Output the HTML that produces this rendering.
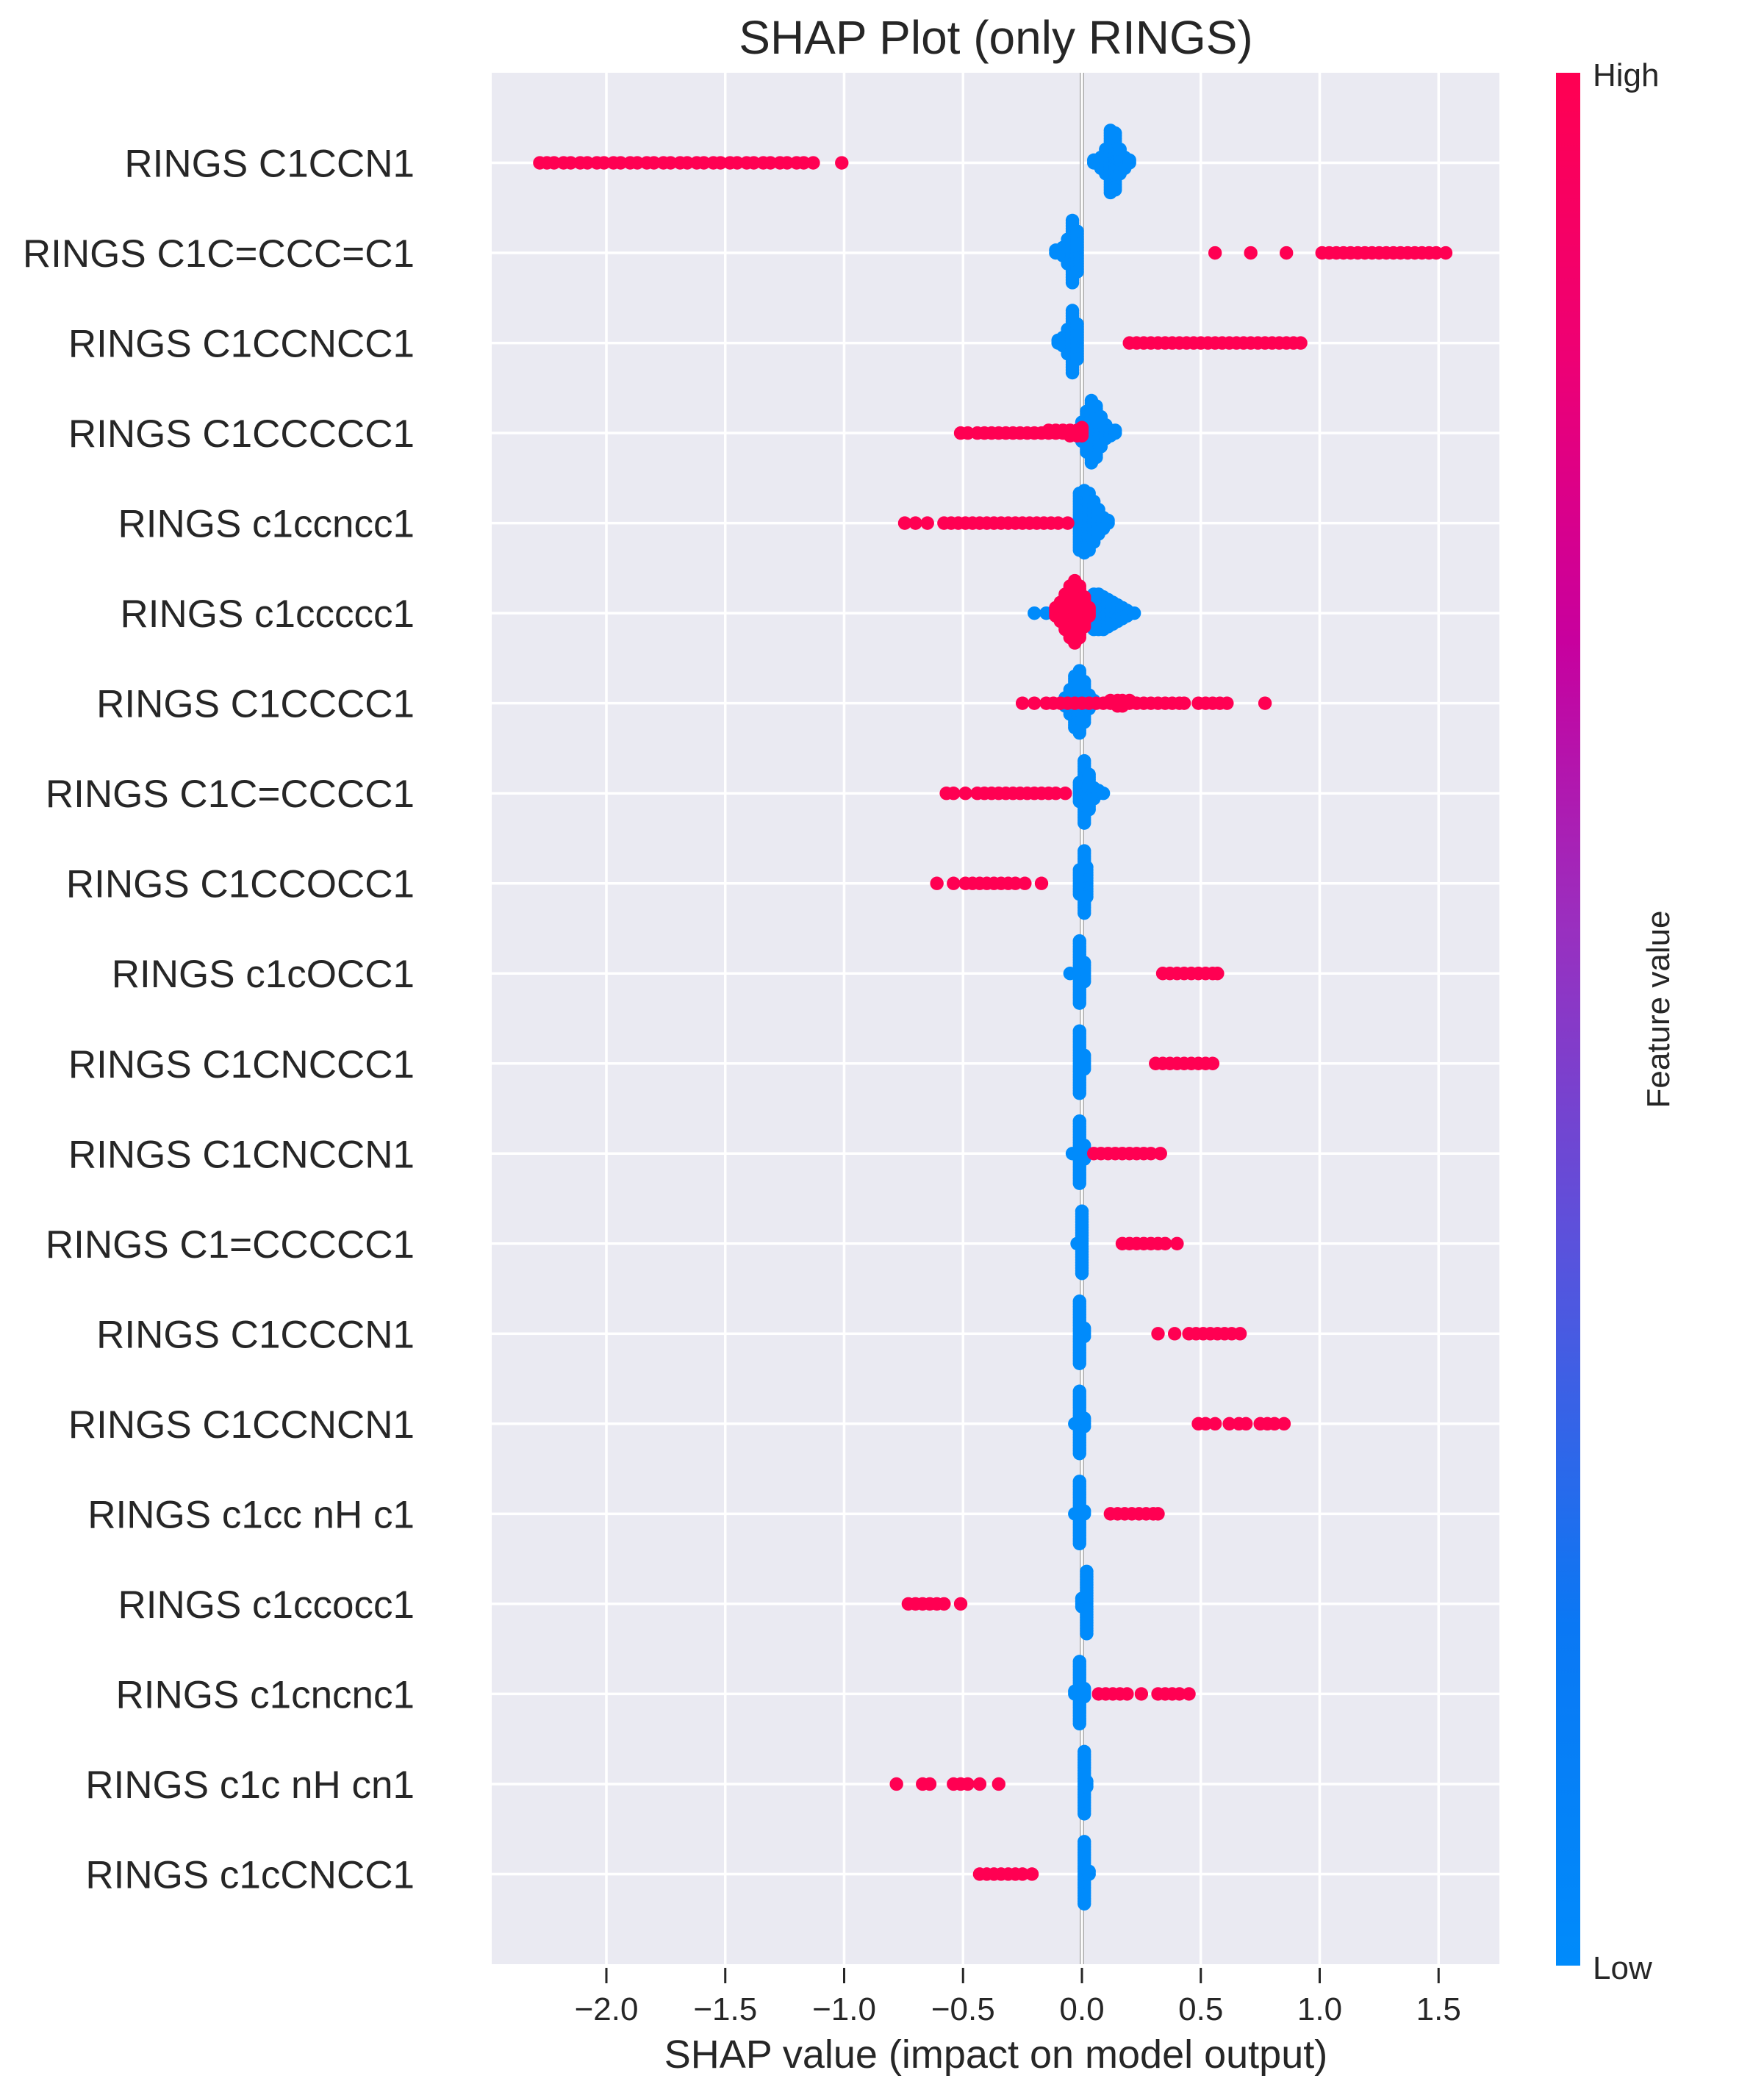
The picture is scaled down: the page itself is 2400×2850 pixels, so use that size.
<!DOCTYPE html>
<html><head><meta charset="utf-8"><style>
html,body{margin:0;padding:0;background:#fff;}
svg{display:block;font-family:"Liberation Sans",Arial,sans-serif;}
</style></head><body>
<svg id="chart" width="2400" height="2850" viewBox="0 0 2400 2850" xmlns="http://www.w3.org/2000/svg">
<defs>
<linearGradient id="cb" x1="0" y1="1" x2="0" y2="0">
<stop offset="0" stop-color="#008bfb"/>
<stop offset="0.18" stop-color="#0a78f4"/>
<stop offset="0.38" stop-color="#5a52dc"/>
<stop offset="0.55" stop-color="#9a2fbf"/>
<stop offset="0.7" stop-color="#c8009e"/>
<stop offset="0.85" stop-color="#ee0074"/>
<stop offset="1" stop-color="#ff0052"/>
</linearGradient>
</defs>
<rect x="669" y="99" width="1371" height="2573" fill="#eaeaf2"/>
<g id="grid"></g>
<g id="points"></g>
<g id="axes"></g>
<text x="1355" y="73" font-size="64" text-anchor="middle" fill="#262626">SHAP Plot (only RINGS)</text>
<text x="1355" y="2813" font-size="54" text-anchor="middle" fill="#262626">SHAP value (impact on model output)</text>
<rect x="2117" y="99" width="33" height="2575" fill="url(#cb)"/>
<text x="2167" y="117" font-size="44" fill="#262626">High</text>
<text x="2167" y="2692" font-size="44" fill="#262626">Low</text>
<text x="0" y="0" font-size="44" fill="#262626" text-anchor="middle" transform="translate(2271,1373) rotate(-90)">Feature value</text>
</svg>
<script>
const featureNames = ["RINGS C1CCN1","RINGS C1C=CCC=C1","RINGS C1CCNCC1","RINGS C1CCCCC1","RINGS c1ccncc1","RINGS c1ccccc1","RINGS C1CCCC1","RINGS C1C=CCCC1","RINGS C1CCOCC1","RINGS c1cOCC1","RINGS C1CNCCC1","RINGS C1CNCCN1","RINGS C1=CCCCC1","RINGS C1CCCN1","RINGS C1CCNCN1","RINGS c1cc nH c1","RINGS c1ccocc1","RINGS c1cncnc1","RINGS c1c nH cn1","RINGS c1cCNCC1"];
const xTicks = [-2.0,-1.5,-1.0,-0.5,0.0,0.5,1.0,1.5];
const xTickLabels = ["\u22122.0","\u22121.5","\u22121.0","\u22120.5","0.0","0.5","1.0","1.5"];
const redX = [
[-2.28,-2.25,-2.22,-2.18,-2.15,-2.11,-2.08,-2.04,-2.01,-1.97,-1.94,-1.90,-1.87,-1.83,-1.80,-1.76,-1.73,-1.69,-1.66,-1.62,-1.59,-1.55,-1.52,-1.48,-1.45,-1.41,-1.38,-1.34,-1.31,-1.27,-1.24,-1.20,-1.17,-1.13,-1.01],
[0.56,0.71,0.86,1.01,1.04,1.07,1.10,1.13,1.16,1.19,1.22,1.25,1.28,1.31,1.34,1.37,1.40,1.43,1.46,1.49,1.53],
[0.20,0.23,0.26,0.29,0.32,0.35,0.38,0.41,0.44,0.47,0.50,0.53,0.56,0.59,0.62,0.65,0.68,0.71,0.74,0.77,0.80,0.83,0.86,0.89,0.92],
[-0.51,-0.48,-0.44,-0.41,-0.38,-0.35,-0.32,-0.29,-0.26,-0.23,-0.20,-0.17,-0.14,-0.11,-0.08,-0.05,-0.02,0.0],
[-0.745,-0.70,-0.65,-0.58,-0.55,-0.52,-0.49,-0.46,-0.43,-0.40,-0.37,-0.34,-0.31,-0.28,-0.25,-0.22,-0.19,-0.16,-0.13,-0.10,-0.06],
[-0.11,-0.09,-0.07,-0.05,-0.03,-0.01,0.01,0.03],
[-0.25,-0.20,-0.15,-0.12,-0.09,-0.06,-0.03,0.0,0.03,0.06,0.09,0.12,0.15,0.17,0.20,0.23,0.26,0.29,0.32,0.35,0.38,0.41,0.43,0.49,0.52,0.55,0.58,0.61,0.77],
[-0.57,-0.54,-0.49,-0.44,-0.41,-0.38,-0.35,-0.32,-0.29,-0.26,-0.23,-0.20,-0.17,-0.14,-0.11,-0.07],
[-0.61,-0.54,-0.49,-0.46,-0.43,-0.40,-0.37,-0.34,-0.31,-0.28,-0.24,-0.17],
[0.34,0.37,0.40,0.43,0.46,0.49,0.52,0.55,0.57],
[0.31,0.34,0.37,0.40,0.43,0.46,0.49,0.52,0.55],
[0.05,0.08,0.11,0.14,0.17,0.20,0.23,0.26,0.29,0.33],
[0.17,0.20,0.23,0.26,0.29,0.32,0.35,0.40],
[0.32,0.39,0.45,0.48,0.51,0.54,0.57,0.60,0.63,0.665],
[0.49,0.52,0.56,0.62,0.66,0.69,0.75,0.78,0.81,0.85],
[0.12,0.15,0.18,0.21,0.24,0.27,0.30,0.32],
[-0.73,-0.70,-0.67,-0.64,-0.61,-0.58,-0.51],
[0.07,0.10,0.13,0.16,0.19,0.25,0.32,0.35,0.38,0.41,0.45],
[-0.78,-0.67,-0.64,-0.54,-0.51,-0.48,-0.43,-0.35],
[-0.43,-0.40,-0.37,-0.34,-0.31,-0.28,-0.25,-0.21]
];
const redN = [
[], [], [],
[1,1,1,1,1,1,1,1,1,1,1,1,2,2,2,3,3,4],
[],
[4,8,14,20,24,20,12,4],
[1,1,1,1,1,1,1,1,1,1,1,2,3,3,2,1,1,1,1,1,1,1,1,1,1,1,1,1,1],
[], [], [], [], [], [], [], [], [], [], [], [], []
];
const blueX = [
[0.05,0.08,0.10,0.12,0.14,0.16,0.18,0.20],
[-0.11,-0.08,-0.06,-0.04,-0.02],
[-0.10,-0.08,-0.06,-0.04,-0.02],
[-0.02,0.0,0.02,0.04,0.06,0.08,0.10,0.12,0.14],
[-0.01,0.01,0.03,0.05,0.07,0.09,0.11],
[-0.20,-0.15,-0.12,0.03,0.05,0.07,0.09,0.11,0.13,0.15,0.17,0.19,0.22],
[-0.07,-0.05,-0.03,-0.01,0.01,0.03,0.05],
[-0.01,0.01,0.03,0.05,0.07,0.09],
[-0.01,0.01,0.02],
[-0.05,-0.01,0.01],
[-0.01,0.01],
[-0.04,-0.01,0.01],
[-0.02,0.0],
[-0.01,0.01],
[-0.03,-0.01,0.01],
[-0.03,-0.01,0.01],
[0.0,0.02],
[-0.03,-0.01,0.01],
[0.01,0.02],
[0.01,0.03]
];
const blueN = [
[2,5,10,24,22,10,5,2],
[2,4,10,24,16],
[2,4,10,24,14],
[3,8,16,24,20,12,6,3,2],
[22,24,22,16,10,5,2],
[1,1,1,10,14,14,13,11,9,7,5,3,1],
[4,10,20,24,16,6,2],
[8,24,14,5,2,1],
[10,24,12],
[1,24,8],
[24,6],
[1,24,6],
[1,24],
[24,4],
[1,24,4],
[1,24,2],
[4,24],
[2,24,4],
[24,3],
[24,2]
];

const NS = "http://www.w3.org/2000/svg";
const PL = 669, PR = 2040, PT = 99, PB = 2672;
const X0 = 1472, XS = 323.5;
const ROWH = (PB - PT) / (featureNames.length + 1);
function xScale(v){ return X0 + XS * v; }
function yScale(i){ return PT + ROWH * (i + 1); }
function mk(tag, attrs, parent){
  const e = document.createElementNS(NS, tag);
  for (const k in attrs) e.setAttribute(k, attrs[k]);
  parent.appendChild(e);
  return e;
}
const grid = document.getElementById('grid');
const axes = document.getElementById('axes');
const pts = document.getElementById('points');

xTicks.forEach((t, i) => {
  const x = xScale(t);
  const gl = mk('line', {x1:x, x2:x, y1:PT, y2:PB, stroke:'#ffffff', 'stroke-width':3.5}, grid);
  
  
  const tk = mk('line', {x1:x, x2:x, y1:2677, y2:2698, stroke:'#262626', 'stroke-width':3}, axes);
  
  
  const tl = mk('text', {x:x, y:2748, 'font-size':44, 'text-anchor':'middle', fill:'#262626'}, axes);
  
  
  tl.textContent = xTickLabels[i];
});
featureNames.forEach((n, i) => {
  const y = yScale(i);
  const hl = mk('line', {x1:PL, x2:PR, y1:y, y2:y, stroke:'#ffffff', 'stroke-width':3.5}, grid);
  
  
  const lb = mk('text', {x:564, y:y + 19, 'font-size':53, 'text-anchor':'end', fill:'#262626'}, axes);
  
  
  lb.textContent = n;
});
const z1 = mk('line', {x1:xScale(0)-2.2, x2:xScale(0)-2.2, y1:PT, y2:PB, stroke:'#999999', 'stroke-width':1.2}, grid);


const z2 = mk('line', {x1:xScale(0)+2.2, x2:xScale(0)+2.2, y1:PT, y2:PB, stroke:'#999999', 'stroke-width':1.2}, grid);



const R = 9.2, MAXOFF = 0.36 * ROWH;
featureNames.forEach((n, i) => {
  const y = yScale(i);
  const groups = [];
  blueX[i].forEach((v, j) => groups.push({v:v, n:blueN[i][j], c:'#008bfb'}));
  redX[i].forEach((v, j) => groups.push({v:v, n:(redN[i][j] || 1), c:'#ff0052'}));
  let maxHalf = 1;
  groups.forEach(g => { maxHalf = Math.max(maxHalf, Math.ceil((g.n - 1) / 2)); });
  const step = MAXOFF / maxHalf;
  const row = mk('g', {}, pts);
  
  
  groups.forEach(g => {
    for (let k = 0; k < g.n; k++) {
      const off = (k % 2 ? -1 : 1) * Math.ceil(k / 2) * step;
      const c = mk('circle', {cx:xScale(g.v), cy:y + off, r:R, fill:g.c}, row);
      
      
    }
  });
});
</script>
</body></html>
